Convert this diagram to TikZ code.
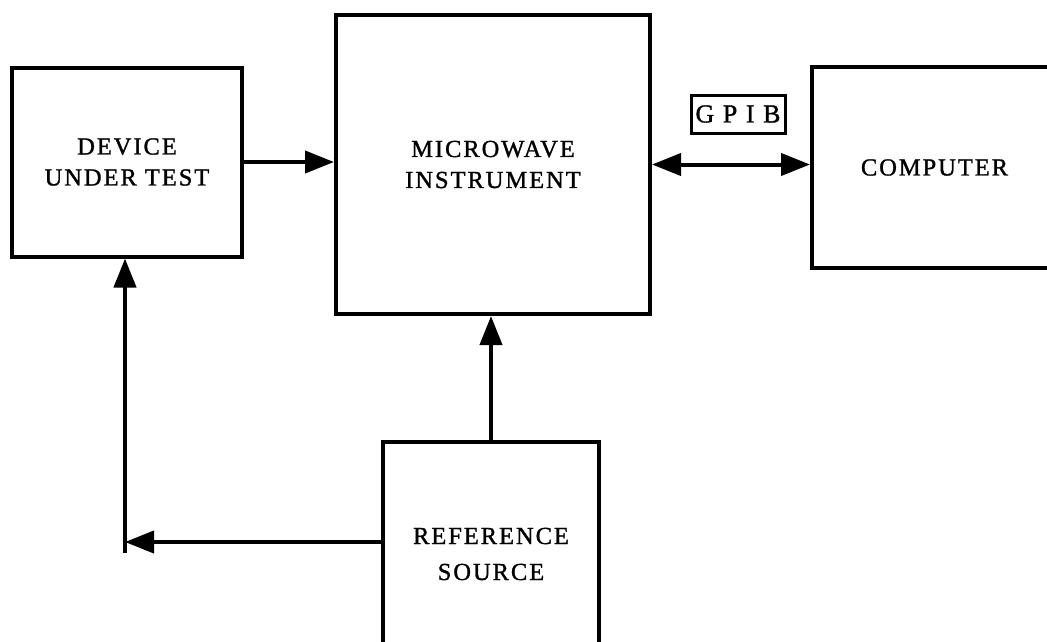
\documentclass[tikz,border=0pt]{standalone}
\usepackage{fontspec}
\setmainfont{Liberation Serif}[LetterSpace=8, FakeBold=1.2]
\usetikzlibrary{arrows.meta}
\tikzset{
  blockbox/.style={draw, line width=4pt, rectangle, inner sep=0pt, align=center,
    font=\fontsize{24.5}{31}\selectfont},
  flow/.style={line width=4pt, -{Triangle[length=29pt,width=22pt]}},
  biflow/.style={line width=4pt, {Triangle[length=29pt,width=22pt]}-{Triangle[length=29pt,width=22pt]}},
  tagbox/.style={draw, line width=3pt, rectangle, inner sep=0pt,
    minimum width=94pt, minimum height=38pt, font=\fontsize{26}{26}\selectfont}
}
\begin{document}
\begin{tikzpicture}[x=1pt, y=-1pt]
  \useasboundingbox (0,0) rectangle (1047,641);
  \clip (0,0) rectangle (1047,641);

  % blocks
  \node[blockbox, minimum width=230pt, minimum height=189pt] (dut) at (127,162)
    {DEVICE\\UNDER TEST};
  \node[blockbox, minimum width=314pt, minimum height=299pt] (mi) at (493,164.5)
    {MICROWAVE\\INSTRUMENT};
  \node[blockbox, minimum width=245pt, minimum height=201pt] (comp) at (934.5,167.5)
    {COMPUTER};
  \node[blockbox, minimum width=216pt, minimum height=224pt,
        font=\fontsize{24.5}{36}\selectfont] (ref) at (491,554)
    {REFERENCE\\SOURCE};

  % bus label
  \node[tagbox] (gpib) at (738,114) {G P I B};

  % signal paths
  \coordinate (vbot) at (125,553);
  \coordinate (vjoin) at (125,542);

  \draw[flow] (dut.east) -- (dut.east -| mi.west);
  \draw[biflow] (mi.east) -- (mi.east -| comp.west);
  \draw[flow] (ref.north) -- (ref.north |- mi.south);
  \draw[flow] (ref.west |- vjoin) -- (vjoin);
  \draw[flow] (vbot) -- (vbot |- dut.south);
\end{tikzpicture}
\end{document}
